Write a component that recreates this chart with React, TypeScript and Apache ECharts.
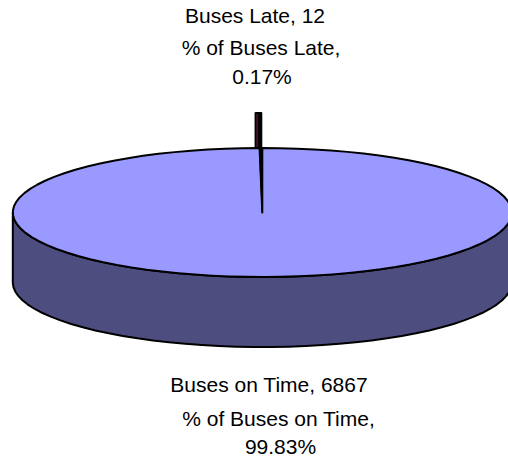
import React, { useEffect, useRef } from "react";
import * as echarts from "echarts";

const categories = ["Buses on Time", "Buses Late"];
const busCounts = [6867, 12];
const percentLabels = ["99.83%", "0.17%"];
const topColors = ["#9999FF", "#993366"];
const wallColors = ["#4D4D80", "#7A2050"];

const cx = 262.3, cy = 212.5, rx = 249.5, ry = 64.5, depth = 70, lift = 36, wallShift = 5;
const total = busCounts.reduce((a, b) => a + b, 0);
const pt = (deg: number, dy = 0): number[] => {
  const r = (deg * Math.PI) / 180;
  return [cx + rx * Math.sin(r), cy - ry * Math.cos(r) + dy];
};
const arc = (from: number, to: number, dy = 0): number[][] => {
  const out: number[][] = [];
  const n = Math.max(2, Math.ceil(Math.abs(to - from) / 4));
  for (let i = 0; i <= n; i++) out.push(pt(from + ((to - from) * i) / n, dy));
  return out;
};

const textStyle = (text: string, x: number, y: number) => ({
  type: "text",
  x,
  y,
  style: { text, fill: "#000", font: '21px "Liberation Sans"', align: "center", verticalAlign: "middle" },
});

const renderItem = (params: any, api: any) => {
  const i = params.dataIndex;
  const prior = busCounts.slice(0, i).reduce((a, b) => a + b, 0);
  const start = (prior / total) * 360;
  const end = ((prior + (api.value(0) as number)) / total) * 360;
  const stroke = { stroke: "#000", lineWidth: 2, lineJoin: "round" };
  const children: any[] = [];
  if (i === 0) {
    const front = arc(90, 270);
    const wall = [...front, ...arc(270, 90, depth)];
    children.push({ type: "polygon", shape: { points: wall }, style: { fill: wallColors[0], ...stroke } });
    const top = [[cx, cy], ...arc(start, end)];
    children.push({ type: "polygon", shape: { points: top }, style: { fill: topColors[0], ...stroke } });
  } else {
    const a = pt(start);
    const b = pt(end);
    const x0 = Math.min(a[0], b[0]);
    const x1 = Math.max(a[0], b[0]);
    const y = Math.min(a[1], b[1]);
    children.push({
      type: "polygon",
      shape: { points: [[x0 - wallShift + 1, y], [x0 - wallShift + 1, y - lift + 1], [x0 - 1, y - lift + 1], [x0 - 1, y]] },
      style: { fill: wallColors[1], ...stroke },
    });
    children.push({
      type: "polygon",
      shape: { points: [[x0 - 0.2, y], [x0 - 0.2, y - lift + 1], [x1 - 1, y - lift + 1], [x1 - 1, y]] },
      style: { fill: "#000", ...stroke },
    });
    children.push({
      type: "polygon",
      shape: { points: [[cx, cy], a, b] },
      style: { fill: "#000", ...stroke, lineWidth: 1.4 },
    });
  }
  return { type: "group", children };
};

export default function App() {
  const ref = useRef<HTMLDivElement>(null);
  useEffect(() => {
    document.body.style.margin = "0";
    const chart = echarts.init(ref.current!, undefined, { renderer: "svg" });
    chart.setOption({
      animation: false,
      backgroundColor: "#fff",
      series: [
        {
          type: "custom",
          coordinateSystem: "none",
          clip: false,
          data: busCounts.map((v, i) => ({ name: categories[i], value: [v] })),
          renderItem,
        },
      ],
      graphic: [
        textStyle(`${categories[1]}, ${busCounts[1]}`, 255, 15),
        textStyle(`% of ${categories[1]},`, 261, 47),
        textStyle(percentLabels[1], 262, 76),
        textStyle(`${categories[0]}, ${busCounts[0]}`, 269, 384),
        textStyle(`% of ${categories[0]},`, 278.5, 418),
        textStyle(percentLabels[0], 280.5, 446),
      ],
    });
    return () => chart.dispose();
  }, []);
  return <div ref={ref} style={{ width: 508, height: 459 }} />;
}
